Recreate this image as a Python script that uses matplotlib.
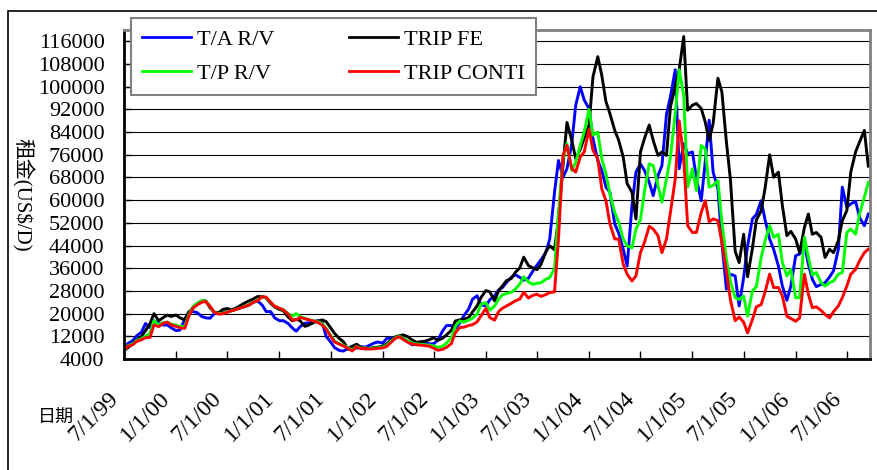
import numpy as np
import pandas as pd
import matplotlib
matplotlib.use("Agg")
import matplotlib.pyplot as plt
import matplotlib.dates as mdates
from matplotlib.lines import Line2D
from matplotlib.patches import Rectangle
from matplotlib.transforms import ScaledTranslation

# semi-monthly rates, thousand US$/day, from Jul 1999
ta_rv = [
    7.5, 9.5, 10.5, 12.2, 13.5, 16.5, 15.0, 17.5, 16.5, 16.0, 16.0, 15.0, 14.0, 14.2, 18.0, 20.5,
    20.7, 20.4, 19.0, 18.5, 18.4, 20.0, 20.4, 20.5, 20.7, 21.0, 21.5, 22.0, 22.5, 23.0, 24.0, 24.5,
    23.0, 20.7, 20.7, 18.5, 17.5, 17.5, 16.5, 15.0, 13.8, 15.4, 16.6, 16.8, 17.2, 17.5, 17.0, 12.0,
    10.0, 8.0, 7.0, 6.8, 7.8, 8.4, 7.8, 8.3, 8.2, 8.8, 9.6, 10.0, 9.6, 11.2, 11.4,
    11.5, 12.0, 11.3, 10.1, 9.0, 9.4, 9.8, 9.8, 9.3, 9.4, 10.6, 13.9, 15.8, 15.8, 14.8, 16.7,
    19.2, 21.6, 25.1, 26.3, 23.1, 22.7, 24.9, 26.3, 28.3, 29.2, 31.0, 32.8, 33.7, 32.8, 31.8, 32.5,
    34.8, 37.1, 39.0, 41.5, 46.3, 62.8, 74.0, 68.1, 71.1, 79.9, 93.5, 100.0, 95.3, 92.3, 81.7, 74.0,
    70.5, 64.6, 62.8, 51.6, 48.4, 42.7, 36.8, 58.1, 69.9, 72.8, 70.5,
    66.3, 61.6, 68.7, 72.2, 90.2, 96.5, 106.0, 71.1, 79.9, 76.4, 77.0, 67.5, 59.8, 73.4, 88.2, 69.9,
    64.0, 45.1, 28.6, 33.9, 33.3, 22.7, 32.7, 43.9, 53.4, 55.0,
    59.8, 53.0, 46.3, 42.7, 36.8, 29.7, 24.7, 29.7, 40.4, 41.0, 44.5, 37.4, 32.1, 29.5, 30.3, 30.9,
    32.9, 35.1, 42.7, 64.6, 57.5, 58.7, 59.6, 53.9, 51.0, 55.1,
]
trip_fe = [
    7.0, 8.0, 9.5, 10.7, 12.0, 14.0, 16.5, 20.0, 17.5, 18.5, 19.5, 19.0, 19.5, 18.5, 17.8, 20.5,
    22.0, 23.5, 24.5, 24.5, 22.0, 20.5, 20.4, 21.5, 21.8, 21.3, 22.0, 22.8, 23.8, 24.5, 25.2, 26.0,
    26.0, 25.5, 23.6, 22.3, 21.5, 21.0, 18.8, 17.5, 18.0, 17.5, 15.5, 16.0, 16.8, 17.3, 17.8, 17.2,
    15.0, 13.0, 11.2, 10.1, 7.4, 8.5, 9.2, 8.2, 7.5, 7.8, 8.0, 8.2, 8.5, 9.3, 10.8,
    11.8, 12.2, 12.5, 11.8, 10.7, 9.9, 10.1, 10.3, 10.8, 11.5, 10.6, 11.3, 12.5, 14.1, 17.4, 17.8,
    18.0, 18.6, 20.6, 22.7, 25.7, 28.1, 27.7, 24.5, 28.1, 29.8, 31.6, 32.4, 34.5, 36.1, 39.9, 36.9,
    36.2, 35.5, 37.3, 41.8, 43.9, 42.5, 53.4, 72.2, 87.4, 81.1, 74.6, 77.9, 81.9, 86.4, 103.5, 110.6,
    104.1, 94.7, 90.5, 84.6, 81.1, 75.2, 65.8, 62.8, 53.4, 77.0, 81.7,
    86.5, 81.1, 75.8, 77.0, 75.8, 92.9, 100.0, 105.9, 117.7, 91.7, 93.5, 94.1, 92.3, 87.6, 81.1, 87.0,
    103.0, 98.2, 80.5, 67.5, 42.0, 38.0, 48.0, 33.0, 43.0, 53.0,
    56.3, 64.3, 76.0, 68.1, 69.9, 58.1, 47.5, 49.0, 46.3, 41.5, 50.4, 55.1, 48.0, 48.6, 46.9, 39.8,
    42.7, 41.5, 45.7, 52.8, 56.3, 69.9, 77.0, 80.5, 84.6, 72.0,
]
tp_rv = [
    7.0, 8.7, 9.3, 10.5, 11.2, 12.0, 13.0, 17.5, 16.0, 16.8, 17.0, 16.3, 16.0, 15.5, 15.5, 19.5,
    22.5, 23.5, 24.5, 24.5, 22.5, 20.5, 20.0, 20.2, 20.7, 21.0, 21.5, 22.0, 22.6, 23.2, 24.0, 24.6,
    26.0, 25.6, 24.0, 22.6, 21.9, 21.3, 20.0, 19.0, 20.0, 19.0, 18.3, 17.9, 17.5, 17.2, 16.5, 14.8,
    12.3, 10.3, 9.4, 8.8, 8.0, 7.2, 8.5, 7.8, 7.9, 7.7, 7.8, 8.0, 8.2, 8.8, 10.4,
    11.5, 12.0, 11.3, 10.3, 9.6, 9.3, 9.2, 9.0, 8.9, 8.6, 8.1, 8.5, 9.6, 11.5, 15.5, 17.4,
    17.0, 17.7, 18.4, 19.8, 23.3, 23.9, 21.2, 22.7, 25.1, 26.6, 27.1, 27.5, 28.6, 30.4, 33.0, 31.2,
    30.3, 30.7, 30.9, 32.1, 32.7, 35.9, 55.7, 74.6, 79.9, 70.5, 73.4, 79.3, 84.1, 92.0, 82.9, 84.0,
    74.6, 69.3, 62.2, 55.7, 52.2, 46.3, 43.9, 43.2, 49.8, 53.1, 63.0,
    72.8, 72.2, 65.2, 59.3, 67.5, 75.2, 90.5, 106.0, 97.0, 64.6, 71.1, 63.4, 79.3, 78.1, 64.6, 65.2,
    66.9, 52.2, 39.2, 31.5, 25.6, 25.0, 26.2, 19.1, 28.0, 29.5,
    39.8, 45.7, 51.0, 46.9, 48.0, 38.0, 33.3, 35.6, 25.6, 25.6, 46.9, 39.8, 33.6, 34.5, 30.9, 29.7,
    30.9, 31.5, 33.9, 34.5, 48.6, 49.8, 48.0, 55.1, 61.0, 66.3,
]
trip_conti = [
    7.0, 8.5, 9.0, 10.2, 10.8, 11.5, 11.6, 16.0, 15.4, 16.5, 17.0, 16.0, 15.5, 15.0, 14.8, 19.0,
    22.0, 23.0, 24.0, 24.3, 22.5, 20.5, 19.8, 20.0, 20.5, 21.0, 21.5, 22.0, 22.5, 23.0, 24.0, 24.5,
    26.0, 25.8, 24.0, 22.6, 21.9, 21.3, 19.8, 17.8, 17.8, 18.7, 18.2, 17.8, 17.4, 17.0, 16.0, 14.5,
    12.0, 10.0, 9.2, 8.6, 7.8, 6.8, 8.4, 7.6, 7.8, 7.5, 7.6, 7.8, 7.9, 8.4, 10.0,
    11.3, 11.8, 10.9, 9.8, 9.3, 9.0, 8.9, 8.7, 8.5, 7.8, 7.1, 7.4, 8.1, 9.4, 13.3, 15.1,
    15.2, 15.8, 16.1, 17.1, 19.2, 21.8, 18.6, 17.7, 20.7, 21.9, 22.7, 23.6, 24.5, 25.1, 27.5, 25.5,
    26.4, 26.8, 26.1, 26.7, 27.4, 27.7, 46.3, 75.8, 79.3, 71.1, 69.9, 75.2, 77.0, 85.0, 77.6, 74.6,
    64.0, 59.8, 51.6, 46.3, 46.3, 37.4, 33.9, 31.5, 33.3, 41.5, 45.1,
    50.8, 49.8, 47.5, 41.5, 46.3, 55.7, 67.5, 88.0, 74.6, 51.0, 48.6, 48.6, 55.7, 59.8, 52.4, 53.4,
    52.8, 45.1, 35.1, 25.0, 17.5, 18.8, 17.0, 13.2, 17.9, 22.4,
    23.2, 27.7, 33.9, 29.2, 29.2, 26.2, 19.1, 18.3, 17.3, 18.5, 33.9, 26.8, 22.1, 22.4, 21.1, 19.7,
    18.5, 20.7, 22.7, 25.6, 29.7, 33.9, 35.6, 38.6, 41.5, 42.7,
]

tick_dates = ["1999-07-01", "2000-01-01", "2000-07-01", "2001-01-01", "2001-07-01",
              "2002-01-01", "2002-07-01", "2003-01-01", "2003-07-01", "2004-01-01",
              "2004-07-01", "2005-01-01", "2005-07-01", "2006-01-01", "2006-07-01"]
tick_labels = ["7/1/99", "1/1/00", "7/1/00", "1/1/01", "7/1/01", "1/1/02", "7/1/02",
               "1/1/03", "7/1/03", "1/1/04", "7/1/04", "1/1/05", "7/1/05", "1/1/06", "7/1/06"]

plt.rcParams['font.family'] = ['Liberation Serif', 'Noto Sans CJK TC']

dates = pd.date_range("1999-07-01", periods=len(ta_rv), freq="SMS")

fig = plt.figure(figsize=(8.78, 4.70), dpi=100)
ax = fig.add_axes([124 / 878, 1 - 359 / 470, (870 - 124) / 878, (359 - 30) / 470])

series = [
    (ta_rv, "#0000ff", "T/A R/V"),
    (trip_fe, "#000000", "TRIP FE"),
    (tp_rv, "#00ff00", "T/P R/V"),
    (trip_conti, "#ff0000", "TRIP CONTI"),
]
for vals, col, name in series:
    ax.plot(dates, np.array(vals) * 1000, color=col, lw=2.1, label=name, solid_joinstyle="round")

ax.set_xlim(pd.Timestamp("1999-07-01"), pd.Timestamp("2006-09-21"))
ax.set_ylim(4000, 120000)
ax.set_yticks(range(4000, 116001, 8000))
ax.yaxis.grid(True, color="black", lw=0.8)
ax.set_axisbelow(True)

# date ticks, labels placed by hand so they sit slanted below each tick
tick_pos = mdates.date2num(pd.to_datetime(tick_dates))
ax.set_xticks(tick_pos)
ax.tick_params(axis="x", direction="in", length=6, width=1, labelbottom=False)
lab_trans = ax.get_xaxis_transform() + ScaledTranslation(-9 / 100, -36 / 100, fig.dpi_scale_trans)
for pos, lab in zip(tick_pos, tick_labels):
    ax.text(pos, 0, lab, transform=lab_trans, rotation=45, ha="right", va="center",
            rotation_mode="anchor", fontsize=17, clip_on=False)

ax.tick_params(axis="y", direction="in", length=5, width=1, labelsize=16, pad=14)

for side in ("left", "bottom"):
    ax.spines[side].set_color("black")
    ax.spines[side].set_linewidth(2)
for side in ("top", "right"):
    ax.spines[side].set_color("#808080")
    ax.spines[side].set_linewidth(2)

handles = [
    Line2D([], [], color="#0000ff", lw=2),
    Line2D([], [], color="#00ff00", lw=2),
    Line2D([], [], color="#000000", lw=2),
    Line2D([], [], color="#ff0000", lw=2),
]
names = ["T/A R/V", "T/P R/V", "TRIP FE", "TRIP CONTI"]
leg = ax.legend(handles, names, loc="upper left", bbox_to_anchor=(131 / 878, 1 - 18 / 470),
                bbox_transform=fig.transFigure, ncol=2, fontsize=16, fancybox=False,
                edgecolor="#808080", framealpha=1, borderaxespad=0, handlelength=2.2,
                handletextpad=0.25, columnspacing=3.4, labelspacing=0.6, borderpad=0.5)
leg.get_frame().set_linewidth(1.5)

fig.text(22 / 878, 1 - 195 / 470, "租金(US$/D)", rotation=-90, ha="center", va="center", fontsize=15)
fig.text(56 / 878, 1 - 418 / 470, "日期", ha="center", va="center", fontsize=13)

# outer frame of the chart area
fig.patches.append(Rectangle((8 / 878, -0.1), 1.2, 1.1 - 11 / 470, transform=fig.transFigure,
                             fill=False, edgecolor="black", lw=1.2))

fig.savefig("out.png", dpi=100)
